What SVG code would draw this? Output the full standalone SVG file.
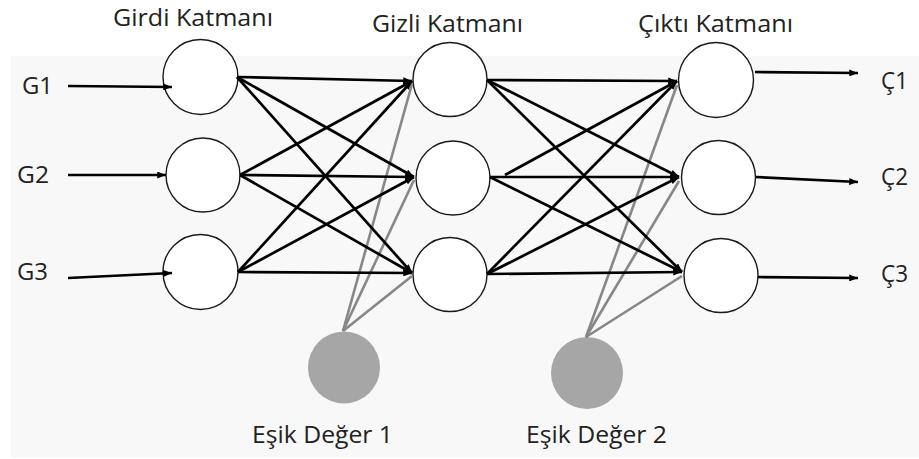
<svg xmlns="http://www.w3.org/2000/svg" width="919" height="459" viewBox="0 0 919 459">
  <defs>
    <marker id="ah" viewBox="0 0 10 8" refX="10" refY="4" markerWidth="9" markerHeight="7" markerUnits="userSpaceOnUse" orient="auto">
      <path d="M0,0 L10,4 L0,8 Z" fill="#000"/>
    </marker>
  </defs>
  <style>
    .n{fill:#fff;stroke:#1a1a1a;stroke-width:1.4}
    .b{fill:#a6a6a6}
    .w{stroke:#000;stroke-width:2.7;fill:none;marker-end:url(#ah)}
    .g{stroke:#878787;stroke-width:2.6;fill:none}
    .t{font-family:"Open Sans","Liberation Sans",sans-serif;font-size:23px;fill:#222}
    .c{text-anchor:middle}
  </style>

  <rect width="919" height="459" fill="#fff"/>
  <rect x="11" y="56" width="908" height="401" fill="#f8f8f8"/>

  <!-- layer titles -->
  <text class="t c" x="193" y="26" textLength="160" lengthAdjust="spacingAndGlyphs">Girdi Katmanı</text>
  <text class="t c" x="447.5" y="32" textLength="151" lengthAdjust="spacingAndGlyphs">Gizli Katmanı</text>
  <text class="t c" x="715.5" y="32" textLength="155" lengthAdjust="spacingAndGlyphs">Çıktı Katmanı</text>

  <!-- inputs / outputs -->
  <text class="t" x="22" y="94" textLength="31" lengthAdjust="spacingAndGlyphs">G1</text>
  <text class="t" x="17" y="183" textLength="32" lengthAdjust="spacingAndGlyphs">G2</text>
  <text class="t" x="17" y="280" textLength="31" lengthAdjust="spacingAndGlyphs">G3</text>
  <text class="t" x="881" y="89" textLength="27" lengthAdjust="spacingAndGlyphs">Ç1</text>
  <text class="t" x="881" y="185" textLength="27" lengthAdjust="spacingAndGlyphs">Ç2</text>
  <text class="t" x="881" y="282" textLength="27" lengthAdjust="spacingAndGlyphs">Ç3</text>

  <!-- input layer -->
  <g id="girdi1"><circle class="n" cx="200.5" cy="77" r="37.5"/></g>
  <g id="girdi2"><circle class="n" cx="203" cy="175" r="37"/></g>
  <g id="girdi3"><circle class="n" cx="200.5" cy="272" r="37.5"/></g>

  <!-- hidden layer -->
  <g id="gizli1"><circle class="n" cx="450" cy="79.5" r="37"/></g>
  <g id="gizli2"><circle class="n" cx="453" cy="178" r="37"/></g>
  <g id="gizli3"><circle class="n" cx="450" cy="274.5" r="37"/></g>

  <!-- output layer -->
  <g id="cikti1"><circle class="n" cx="716" cy="80" r="37.5"/></g>
  <g id="cikti2"><circle class="n" cx="718.5" cy="177.5" r="37"/></g>
  <g id="cikti3"><circle class="n" cx="721" cy="275.5" r="37"/></g>

  <!-- bias units -->
  <g id="esik1">
    <circle class="b" cx="344" cy="367.5" r="36"/>
    <text class="t c" x="322.5" y="443" textLength="141" lengthAdjust="spacingAndGlyphs">Eşik Değer 1</text>
  </g>
  <g id="esik2">
    <circle class="b" cx="587" cy="373" r="36"/>
    <text class="t c" x="596.5" y="443" textLength="141" lengthAdjust="spacingAndGlyphs">Eşik Değer 2</text>
  </g>

  <g id="baglantilar">
    <!-- external inputs -->
    <line class="w" x1="68" y1="86" x2="172" y2="87"/>
    <line class="w" x1="68" y1="175" x2="166" y2="175"/>
    <line class="w" x1="68" y1="278" x2="172" y2="273"/>

    <!-- external outputs -->
    <line class="w" x1="755" y1="72" x2="858" y2="73"/>
    <line class="w" x1="756" y1="177" x2="858" y2="182"/>
    <line class="w" x1="758" y1="277" x2="858" y2="278"/>

    <!-- bias 1 to hidden -->
    <line class="g" x1="343" y1="331" x2="412" y2="84"/>
    <line class="g" x1="343" y1="331" x2="414" y2="180"/>
    <line class="g" x1="343" y1="331" x2="412" y2="276"/>

    <!-- bias 2 to output -->
    <line class="g" x1="586" y1="337" x2="677" y2="85"/>
    <line class="g" x1="586" y1="337" x2="679" y2="181"/>
    <line class="g" x1="586" y1="337" x2="682" y2="276"/>

    <!-- input to hidden -->
    <line class="w" x1="237" y1="77" x2="412" y2="81"/>
    <line class="w" x1="237" y1="77" x2="414" y2="177"/>
    <line class="w" x1="237" y1="77" x2="412" y2="273"/>
    <line class="w" x1="240" y1="175" x2="412" y2="81"/>
    <line class="w" x1="240" y1="175" x2="414" y2="177"/>
    <line class="w" x1="240" y1="175" x2="412" y2="273"/>
    <line class="w" x1="238" y1="272" x2="412" y2="81"/>
    <line class="w" x1="238" y1="272" x2="414" y2="177"/>
    <line class="w" x1="238" y1="272" x2="412" y2="273"/>

    <!-- hidden to output -->
    <line class="w" x1="487" y1="80" x2="677" y2="81"/>
    <line class="w" x1="487" y1="80" x2="679" y2="177"/>
    <line class="w" x1="487" y1="80" x2="682" y2="272"/>
    <line class="w" x1="505" y1="175" x2="677" y2="81"/>
    <line class="w" x1="490" y1="177" x2="679" y2="177"/>
    <line class="w" x1="490" y1="177" x2="682" y2="272"/>
    <line class="w" x1="487" y1="274" x2="677" y2="81"/>
    <line class="w" x1="487" y1="274" x2="679" y2="177"/>
    <line class="w" x1="487" y1="274" x2="682" y2="272"/>
  </g>
</svg>
